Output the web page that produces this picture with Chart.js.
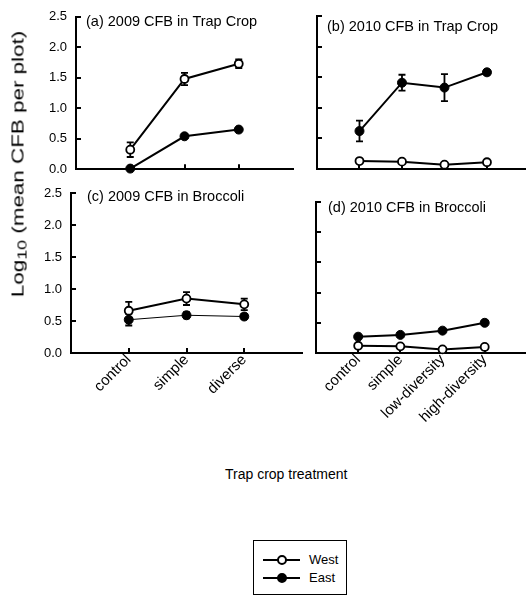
<!DOCTYPE html>
<html>
<head>
<meta charset="utf-8">
<script src="https://cdn.jsdelivr.net/npm/chart.js@4.4.1/dist/chart.umd.min.js"></script>
<style>
  body { margin: 0; background: #fff; font-family: Arial, "Liberation Sans", sans-serif; color: #000; }
  #wrap { position: relative; width: 531px; height: 598px; overflow: hidden; }
  #wrap canvas { position: absolute; }
  #ytitle { position: absolute; left: 20px; top: 164px; white-space: nowrap; font-size: 16px; line-height: 1;
            transform: translate(-50%, -50%) rotate(-90deg) scaleX(1.4); }
  #ytitle sub { font-size: 0.8em; vertical-align: -0.25em; }
  #xtitle { position: absolute; left: 225px; top: 466px; font-size: 14px; white-space: nowrap; }
  #legend { position: absolute; left: 253px; top: 540px; width: 94px; height: 55px; border: 1px solid #000; box-sizing: border-box; }
  .item { position: absolute; left: 9px; height: 14px; font-size: 13px; line-height: 14px; }
  .item .ln { position: absolute; left: 0; top: 6px; width: 37px; height: 2px; background: #000; }
  .item .dot { position: absolute; left: 14px; top: 2px; width: 6px; height: 6px; border: 2px solid #000; border-radius: 50%; }
  .item span { position: absolute; left: 46px; top: 0; }
</style>
</head>
<body>
<div id="wrap">
  <canvas id="panelA" width="300" height="186" style="left:0;top:0"></canvas>
  <canvas id="panelB" width="231" height="176" style="left:300px;top:0"></canvas>
  <canvas id="panelC" width="310" height="250" style="left:0;top:176px"></canvas>
  <canvas id="panelD" width="231" height="250" style="left:300px;top:176px"></canvas>
  <div id="ytitle">Log<sub>10</sub> (mean CFB per plot)</div>
  <div id="xtitle">Trap crop treatment</div>
  <div id="legend">
    <div class="item" style="top:12px"><div class="ln"></div><div class="dot" style="background:#fff"></div><span>West</span></div>
    <div class="item" style="top:30px"><div class="ln"></div><div class="dot" style="background:#000"></div><span>East</span></div>
  </div>
</div>

<script>
// categories
const cats2009 = ['control', 'simple', 'diverse'];
const cats2010 = ['control', 'simple', 'low-diversity', 'high-diversity'];
const yTicks = [0, 0.5, 1.0, 1.5, 2.0, 2.5];

// (a) 2009 trap crop
const trap2009West = [0.32, 1.48, 1.73];
const trap2009WestErr = [0.12, 0.10, 0.07];
const trap2009East = [0.01, 0.54, 0.65];
const trap2009EastErr = [0, 0.03, 0.03];

// (b) 2010 trap crop
const trap2010West = [0.13, 0.12, 0.07, 0.11];
const trap2010WestErr = [0, 0, 0, 0];
const trap2010East = [0.62, 1.41, 1.33, 1.58];
const trap2010EastErr = [0.17, 0.13, 0.22, 0.04];

// (c) 2009 broccoli
const broc2009West = [0.66, 0.85, 0.76];
const broc2009WestErr = [0.14, 0.10, 0.09];
const broc2009East = [0.52, 0.59, 0.57];
const broc2009EastErr = [0.09, 0.05, 0.04];

// (d) 2010 broccoli
const broc2010West = [0.12, 0.11, 0.06, 0.10];
const broc2010WestErr = [0, 0, 0, 0];
const broc2010East = [0.27, 0.30, 0.37, 0.50];
const broc2010EastErr = [0, 0, 0, 0];

// error bars drawn behind the points
const errorBars = {
  id: 'errorBars',
  beforeDatasetsDraw(chart) {
    const { ctx, scales: { x, y } } = chart;
    ctx.save();
    ctx.strokeStyle = '#000';
    ctx.lineWidth = 1.8;
    chart.data.datasets.forEach(ds => {
      ds.data.forEach((p, i) => {
        const e = ds.err[i];
        if (!e) return;
        const px = x.getPixelForValue(p.x);
        const top = y.getPixelForValue(p.y + e);
        const bot = y.getPixelForValue(p.y - e);
        ctx.beginPath();
        ctx.moveTo(px, top); ctx.lineTo(px, bot);
        ctx.moveTo(px - 3.5, top); ctx.lineTo(px + 3.5, top);
        ctx.moveTo(px - 3.5, bot); ctx.lineTo(px + 3.5, bot);
        ctx.stroke();
      });
    });
    ctx.restore();
  }
};

// tick marks pointing into the plot
const innerTicks = {
  id: 'innerTicks',
  beforeDatasetsDraw(chart) {
    const { ctx, chartArea: a, scales: { x, y } } = chart;
    ctx.save();
    ctx.strokeStyle = '#000';
    ctx.lineWidth = 2;
    ctx.beginPath();
    x.ticks.forEach(t => {
      const px = Math.round(x.getPixelForValue(t.value));
      ctx.moveTo(px, a.bottom); ctx.lineTo(px, a.bottom - 5);
    });
    y.ticks.forEach(t => {
      const py = Math.round(y.getPixelForValue(t.value));
      ctx.moveTo(a.left, py); ctx.lineTo(a.left + 5, py);
    });
    ctx.stroke();
    ctx.restore();
  }
};

const panelTitle = {
  id: 'panelTitle',
  afterDraw(chart, args, opts) {
    const { ctx } = chart;
    ctx.save();
    ctx.fillStyle = '#000';
    ctx.font = '14.5px Arial, "Liberation Sans", sans-serif';
    ctx.textBaseline = 'alphabetic';
    ctx.fillText(opts.text, opts.x, opts.y);
    ctx.restore();
  }
};

function makePanel(id, p) {
  const toPts = vals => vals.map((v, i) => ({ x: i + 1, y: v }));
  new Chart(document.getElementById(id), {
    type: 'line',
    data: {
      datasets: [
        {
          label: 'West', data: toPts(p.west), err: p.westErr,
          borderColor: '#000', borderWidth: 2, clip: false,
          pointRadius: 4, pointBorderWidth: 1.8,
          pointBackgroundColor: '#fff', pointBorderColor: '#000'
        },
        {
          label: 'East', data: toPts(p.east), err: p.eastErr,
          borderColor: '#000', borderWidth: p.eastWidth || 2, clip: false,
          pointRadius: 4.5, pointBorderWidth: 1,
          pointBackgroundColor: '#000', pointBorderColor: '#000'
        }
      ]
    },
    options: {
      responsive: false,
      animation: false,
      layout: { padding: { top: p.padTop, right: p.padRight, left: 0, bottom: 0 } },
      plugins: {
        legend: { display: false },
        tooltip: { enabled: false },
        panelTitle: { text: p.title, x: p.titleX, y: p.titleY }
      },
      scales: {
        x: {
          type: 'linear', min: 0, max: p.xMax,
          grid: { display: false, drawTicks: false },
          border: { display: true, color: '#000', width: 2 },
          afterBuildTicks: s => { s.ticks = p.cats.map((c, i) => ({ value: i + 1 })); },
          afterFit: s => { s.height = p.xHeight; },
          ticks: {
            display: p.showX,
            callback: v => p.cats[v - 1],
            minRotation: 45, maxRotation: 45,
            padding: -2,
            color: '#000',
            font: { family: 'Arial, "Liberation Sans", sans-serif', size: 15 }
          }
        },
        y: {
          min: 0, max: 2.5,
          grid: { display: false, drawTicks: false },
          border: { display: true, color: '#000', width: 2 },
          afterBuildTicks: s => { s.ticks = yTicks.map(v => ({ value: v })); },
          afterFit: s => { s.width = p.yWidth; },
          ticks: {
            display: p.showY,
            callback: v => v.toFixed(1),
            padding: 9,
            color: '#000',
            font: { family: 'Arial, "Liberation Sans", sans-serif', size: 13 }
          }
        }
      }
    },
    plugins: [errorBars, innerTicks, panelTitle]
  });
}

makePanel('panelA', {
  cats: cats2009, west: trap2009West, westErr: trap2009WestErr, east: trap2009East, eastErr: trap2009EastErr,
  xMax: 4, yWidth: 76, padTop: 16, padRight: 7, xHeight: 7, showX: false, showY: true,
  title: '(a) 2009 CFB in Trap Crop', titleX: 86, titleY: 26
});
makePanel('panelB', {
  cats: cats2010, west: trap2010West, westErr: trap2010WestErr, east: trap2010East, eastErr: trap2010EastErr,
  xMax: 4.9, yWidth: 17, padTop: 16, padRight: 0, xHeight: 7, showX: false, showY: false,
  title: '(b) 2010 CFB in Trap Crop', titleX: 27, titleY: 31
});
makePanel('panelC', {
  cats: cats2009, west: broc2009West, westErr: broc2009WestErr, east: broc2009East, eastErr: broc2009EastErr,
  eastWidth: 1,
  xMax: 4, yWidth: 71, padTop: 17, padRight: 8, xHeight: 73, showX: true, showY: true,
  title: '(c) 2009 CFB in Broccoli', titleX: 87, titleY: 25
});
makePanel('panelD', {
  cats: cats2010, west: broc2010West, westErr: broc2010WestErr, east: broc2010East, eastErr: broc2010EastErr,
  xMax: 4.96, yWidth: 16, padTop: 26, padRight: 0, xHeight: 73, showX: true, showY: false,
  title: '(d) 2010 CFB in Broccoli', titleX: 28, titleY: 36
});
</script>
</body>
</html>
